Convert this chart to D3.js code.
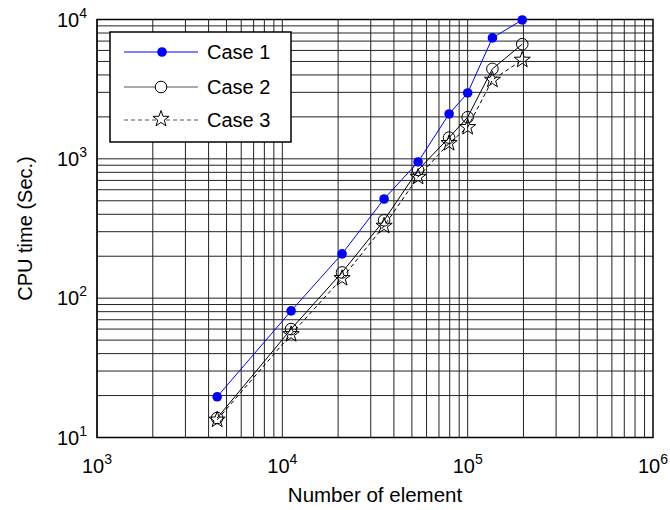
<!DOCTYPE html>
<html>
<head>
<meta charset="utf-8">
<title>CPU time</title>
<script src="https://d3js.org/d3.v7.min.js"></script>
<style>
body { margin: 0; background: #fff; }
text { font-family: "Liberation Sans", Arial, sans-serif; fill: #000; }
</style>
</head>
<body>
<script>

// values
var nElements = [4450, 11150, 21000, 35400, 54000, 79400, 100000, 136000, 197000];
var case1 = [19.6, 81, 208, 515, 950, 2100, 2970, 7380, 9930];
var case2 = [13.8, 60, 153, 362, 832, 1420, 1990, 4420, 6650];
var case3 = [13.4, 55, 139, 330, 741, 1294, 1686, 3685, 5130];
var seriesNames = ["Case 1", "Case 2", "Case 3"];
var xDecades = [3, 4, 5, 6];
var yDecades = [1, 2, 3, 4];

var W = 670, H = 510;
var pLeft = 97, pRight = 653, pTop = 19.5, pBottom = 437.5;

var svg = d3.select("body").append("svg")
	.attr("width", W)
	.attr("height", H);

var x = d3.scaleLog().domain([1e3, 1e6]).range([pLeft, pRight]);
var y = d3.scaleLog().domain([1e1, 1e4]).range([pBottom, pTop]);

// grid lines, every 1..9 of each decade
function gridValues(decades){
	var vals = [];
	for (var i = 0; i < decades.length - 1; i++){
		for (var k = 1; k < 10; k++){
			vals.push(k * Math.pow(10, decades[i]));
		}
	}
	return vals;
}

var grid = svg.append("g");
grid.selectAll("line.gx")
	.data(gridValues(xDecades))
	.enter().append("line")
	.attr("x1", function(d){ return x(d); })
	.attr("x2", function(d){ return x(d); })
	.attr("y1", pTop).attr("y2", pBottom)
	.attr("stroke", "#222")
	.attr("stroke-width", 1);
grid.selectAll("line.gy")
	.data(gridValues(yDecades))
	.enter().append("line")
	.attr("y1", function(d){ return y(d); })
	.attr("y2", function(d){ return y(d); })
	.attr("x1", pLeft).attr("x2", pRight)
	.attr("stroke", "#222")
	.attr("stroke-width", 1);

// frame
svg.append("rect")
	.attr("x", pLeft).attr("y", pTop)
	.attr("width", pRight - pLeft).attr("height", pBottom - pTop)
	.attr("fill", "none")
	.attr("stroke", "#000")
	.attr("stroke-width", 1.5);

// tick labels
var xl = svg.append("g").selectAll("text")
	.data(xDecades)
	.enter().append("text")
	.attr("x", function(d){ return x(Math.pow(10, d)); })
	.attr("y", 473)
	.attr("text-anchor", "middle")
	.style("font-size", "20px");
xl.append("tspan").text("10");
xl.append("tspan").attr("dy", -9).style("font-size", "14px").text(function(d){ return d; });

var yl = svg.append("g").selectAll("text")
	.data(yDecades)
	.enter().append("text")
	.attr("x", 87)
	.attr("y", function(d){ return y(Math.pow(10, d)) + 7; })
	.attr("text-anchor", "end")
	.style("font-size", "20px");
yl.append("tspan").text("10");
yl.append("tspan").attr("dy", -9).style("font-size", "14px").text(function(d){ return d; });

// axis titles
svg.append("text")
	.attr("x", (pLeft + pRight) / 2)
	.attr("y", 502)
	.attr("text-anchor", "middle")
	.style("font-size", "20.5px")
	.text("Number of element");
svg.append("text")
	.attr("transform", "translate(32," + ((pTop + pBottom) / 2) + ") rotate(-90)")
	.attr("text-anchor", "middle")
	.style("font-size", "20px")
	.text("CPU time (Sec.)");

// star marker
function starPath(r){
	var pts = [];
	for (var i = 0; i < 10; i++){
		var rr = i % 2 == 0 ? r : r * 0.4;
		var a = -Math.PI / 2 + i * Math.PI / 5;
		pts.push([rr * Math.cos(a), rr * Math.sin(a)]);
	}
	return "M" + pts.map(function(p){ return p[0].toFixed(2) + "," + p[1].toFixed(2); }).join("L") + "Z";
}

var line = d3.line()
	.x(function(d){ return x(d[0]); })
	.y(function(d){ return y(d[1]); });

function pairs(vals){
	return nElements.map(function(n, i){ return [n, vals[i]]; });
}

var plot = svg.append("g");

// case 3
plot.append("path").datum(pairs(case3))
	.attr("d", line).attr("fill", "none")
	.attr("stroke", "#000").attr("stroke-width", 1)
	.attr("stroke-dasharray", "4,3");
plot.selectAll("path.s3").data(pairs(case3)).enter().append("path")
	.attr("transform", function(d){ return "translate(" + x(d[0]) + "," + y(d[1]) + ")"; })
	.attr("d", starPath(8.5))
	.attr("fill", "none").attr("stroke", "#000").attr("stroke-width", 1);

// case 2
plot.append("path").datum(pairs(case2))
	.attr("d", line).attr("fill", "none")
	.attr("stroke", "#000").attr("stroke-width", 1);
plot.selectAll("circle.s2").data(pairs(case2)).enter().append("circle")
	.attr("cx", function(d){ return x(d[0]); })
	.attr("cy", function(d){ return y(d[1]); })
	.attr("r", 5.8)
	.attr("fill", "none").attr("stroke", "#000").attr("stroke-width", 1);

// case 1
plot.append("path").datum(pairs(case1))
	.attr("d", line).attr("fill", "none")
	.attr("stroke", "#0000ff").attr("stroke-width", 1);
plot.selectAll("circle.s1").data(pairs(case1)).enter().append("circle")
	.attr("cx", function(d){ return x(d[0]); })
	.attr("cy", function(d){ return y(d[1]); })
	.attr("r", 4.8)
	.attr("fill", "#0000ff");

// legend
var lg = svg.append("g");
lg.append("rect")
	.attr("x", 110).attr("y", 32)
	.attr("width", 181).attr("height", 110)
	.attr("fill", "#fff").attr("stroke", "#000").attr("stroke-width", 1.5);

var rows = [52, 87, 120];
var lineColors = ["#0000ff", "#555", "#555"];
var dashes = [null, null, "4,3"];
seriesNames.forEach(function(name, i){
	lg.append("line")
		.attr("x1", 124).attr("x2", 198)
		.attr("y1", rows[i]).attr("y2", rows[i])
		.attr("stroke", lineColors[i]).attr("stroke-width", 1)
		.attr("stroke-dasharray", dashes[i]);
	if (i == 0){
		lg.append("circle").attr("cx", 162).attr("cy", rows[i]).attr("r", 4.8).attr("fill", "#0000ff");
	} else if (i == 1){
		lg.append("circle").attr("cx", 161).attr("cy", rows[i]).attr("r", 5.8)
			.attr("fill", "#fff").attr("stroke", "#000");
	} else {
		lg.append("path").attr("transform", "translate(161," + (rows[i] - 1) + ")")
			.attr("d", starPath(8.5)).attr("fill", "#fff").attr("stroke", "#000");
	}
	lg.append("text")
		.attr("x", 207).attr("y", rows[i] + 7)
		.style("font-size", "20px")
		.text(name);
});

</script>
</body>
</html>
